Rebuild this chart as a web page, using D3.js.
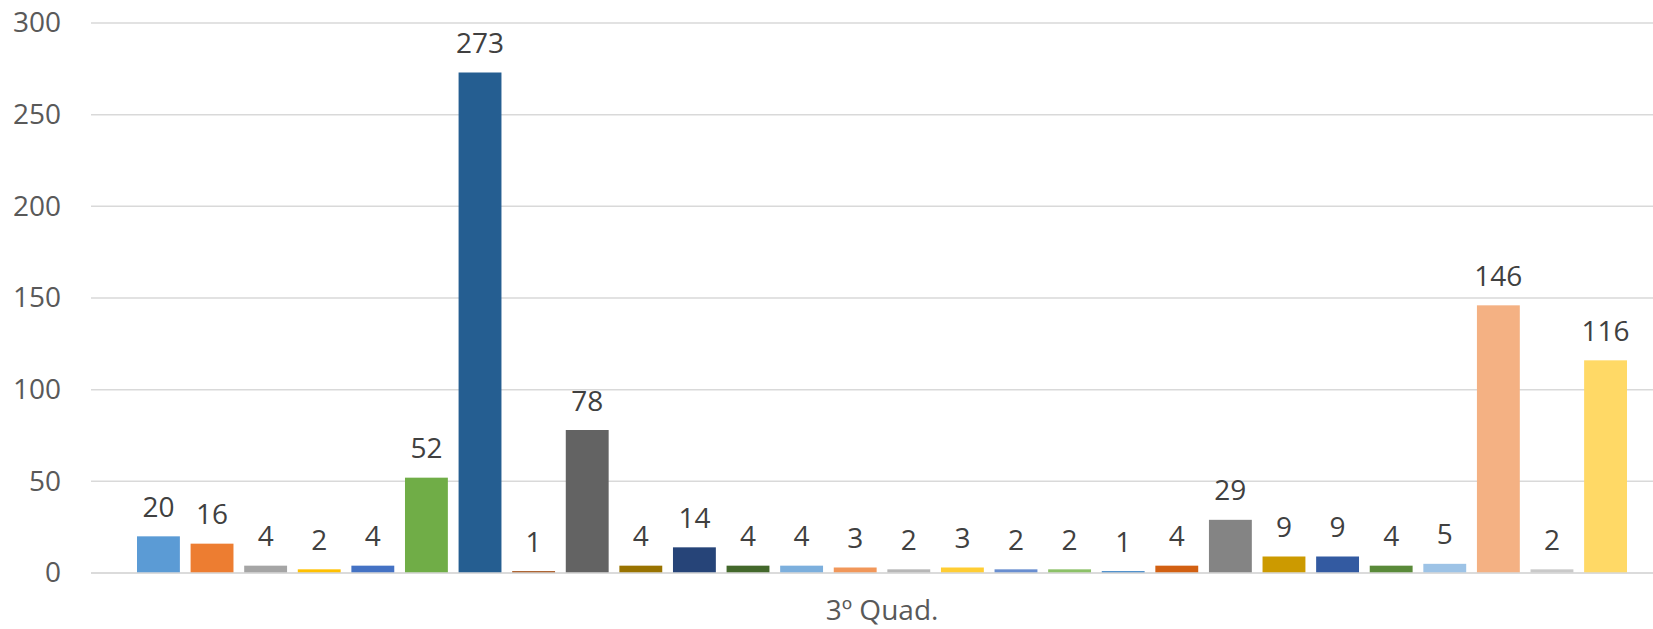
<!DOCTYPE html>
<html>
<head>
<meta charset="utf-8">
<style>
  html, body { margin: 0; padding: 0; background: #fff; }
  svg { display: block; font-family: "Open Sans", sans-serif; }
</style>
</head>
<body>
<svg width="1653" height="629"></svg>
<script src="https://d3js.org/d3.v7.min.js"></script>
<script>
  var category = "3º Quad.";

  var values = [20, 16, 4, 2, 4, 52, 273, 1, 78, 4, 14, 4, 4, 3, 2, 3, 2, 2, 1, 4, 29, 9, 9, 4, 5, 146, 2, 116];

  var colors = ["#5B9BD5", "#ED7D31", "#A5A5A5", "#FFC000", "#4472C4", "#70AD47",
                "#255E91", "#9E480E", "#636363", "#997300", "#264478", "#43682B",
                "#7CAFDD", "#F1975A", "#B7B7B7", "#FFCD33", "#698ED0", "#8CC168",
                "#327DC2", "#D26012", "#848484", "#CC9A00", "#335AA1", "#5A8A39",
                "#9DC3E6", "#F4B183", "#C9C9C9", "#FFD966"];

  var yTicks = [0, 50, 100, 150, 200, 250, 300];

  var svg = d3.select("svg"),
      width = +svg.attr("width"),
      gridLeft = 91,
      barLeft = 137, barRight = 1627,
      plotTop = 23, plotBottom = 573;

  var y = d3.scaleLinear().domain([0, 300]).range([plotBottom, plotTop]);

  var x = d3.scaleBand()
      .domain(d3.range(values.length))
      .range([barLeft, barRight])
      .paddingInner(0.2)
      .paddingOuter(0);

  // gridlines
  svg.append("g")
    .selectAll("line")
    .data(yTicks)
    .join("line")
      .attr("x1", gridLeft)
      .attr("x2", width)
      .attr("y1", function(d) { return y(d); })
      .attr("y2", function(d) { return y(d); })
      .attr("stroke", "#d9d9d9")
      .attr("stroke-width", 1.5);

  // y axis labels
  var yAxis = svg.append("g")
      .attr("transform", "translate(61,0)")
      .call(d3.axisLeft(y).tickValues(yTicks).tickSize(0).tickPadding(0));
  yAxis.select(".domain").remove();
  yAxis.selectAll("text")
      .attr("fill", "#595959")
      .style("font-family", "'Open Sans', sans-serif")
      .style("font-size", "28px");

  // bars
  svg.append("g")
    .selectAll("rect")
    .data(values)
    .join("rect")
      .attr("x", function(d, i) { return x(i); })
      .attr("y", function(d) { return y(d); })
      .attr("width", x.bandwidth())
      .attr("height", function(d) { return plotBottom - y(d); })
      .attr("fill", function(d, i) { return colors[i]; });

  // zero line on top of bars
  svg.append("line")
      .attr("x1", gridLeft).attr("x2", width)
      .attr("y1", y(0)).attr("y2", y(0))
      .attr("stroke", "#d9d9d9")
      .attr("stroke-width", 1.5);

  // data labels
  svg.append("g")
    .selectAll("text")
    .data(values)
    .join("text")
      .attr("x", function(d, i) { return x(i) + x.bandwidth() / 2; })
      .attr("y", function(d) { return y(d) - 19.5; })
      .attr("text-anchor", "middle")
      .attr("fill", "#404040")
      .style("font-size", "28px")
      .text(function(d) { return d; });

  // category label
  svg.append("text")
      .attr("x", (barLeft + barRight) / 2)
      .attr("y", 620)
      .attr("text-anchor", "middle")
      .attr("fill", "#595959")
      .style("font-size", "28px")
      .text(category);
</script>
</body>
</html>
